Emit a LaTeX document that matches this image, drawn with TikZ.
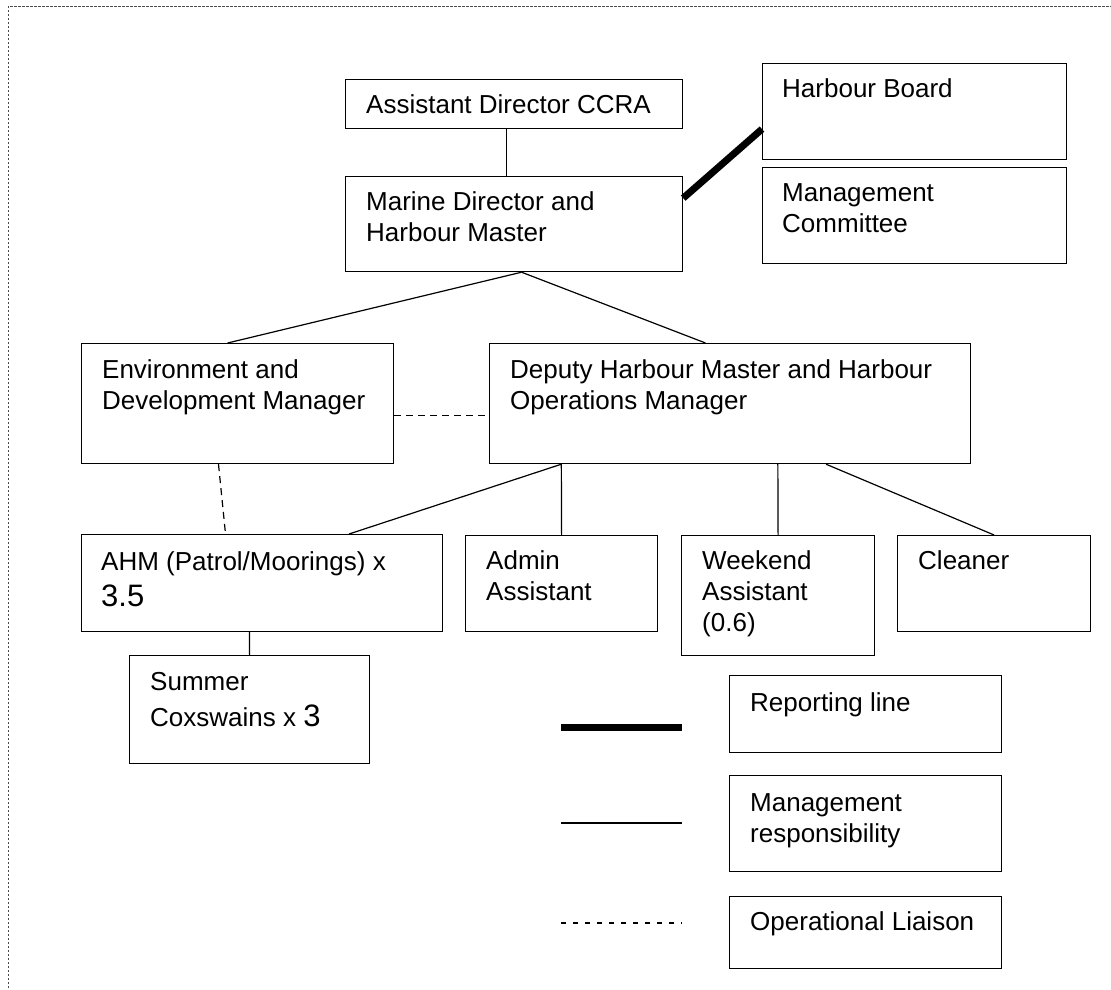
\documentclass[tikz,border=0pt]{standalone}
\usepackage{fontspec}
\setmainfont{Liberation Sans}
\usetikzlibrary{calc}
\tikzset{
  box/.style={draw, line width=1.2pt, inner sep=0pt, anchor=north west},
  lbl/.style={anchor=base west, inner sep=0pt, font=\fontsize{26}{31}\selectfont},
  mgmt/.style={line width=1.2pt},
  liaison/.style={line width=1.2pt, dash pattern=on 7pt off 5pt},
  reporting/.style={line width=7pt},
  frame/.style={line width=0.9pt, black!70, dash pattern=on 2.5pt off 1.5pt},
}
\newcommand{\bignum}[1]{{\fontsize{31}{36}\selectfont #1}}
\newcommand{\mlines}[1]{\begin{tabular}[t]{@{}l@{}}#1\end{tabular}}
\begin{document}
\begin{tikzpicture}[x=1pt,y=-1pt]
\useasboundingbox (0,0) rectangle (1111,989);
\draw[frame] (8,1000) -- (8,6) -- (1120,6);

% boxes
\node[box, minimum width=337pt, minimum height=49pt]  (adccra) at (345,79) {};
\node[box, minimum width=304pt, minimum height=96pt]  (hb)     at (762,63) {};
\node[box, minimum width=304pt, minimum height=96pt]  (mc)     at (762,167) {};
\node[box, minimum width=337pt, minimum height=95pt]  (md)     at (345,176) {};
\node[box, minimum width=312pt, minimum height=120pt] (env)    at (81,343) {};
\node[box, minimum width=481pt, minimum height=120pt] (dhm)    at (489,343) {};
\node[box, minimum width=361pt, minimum height=97pt]  (ahm)    at (81,534) {};
\node[box, minimum width=192pt, minimum height=96pt]  (admin)  at (465,535) {};
\node[box, minimum width=193pt, minimum height=120pt] (wknd)   at (681,535) {};
\node[box, minimum width=193pt, minimum height=96pt]  (clean)  at (897,535) {};
\node[box, minimum width=240pt, minimum height=108pt] (summer) at (129,655) {};
\node[box, minimum width=272pt, minimum height=77pt]  (rep)    at (729,675) {};
\node[box, minimum width=272pt, minimum height=96pt]  (mresp)  at (729,775) {};
\node[box, minimum width=272pt, minimum height=72pt]  (opl)    at (729,896) {};

% labels
\node[lbl] (adccra-t) at ($(adccra.north west)+(21,34)$) {Assistant Director CCRA};
\node[lbl] (hb-t)     at ($(hb.north west)+(20,34)$) {Harbour Board};
\node[lbl] (mc-t)     at ($(mc.north west)+(20,34)$) {\mlines{Management\\Committee}};
\node[lbl] (md-t)     at ($(md.north west)+(21,34)$) {\mlines{Marine Director and\\Harbour Master}};
\node[lbl] (env-t)    at ($(env.north west)+(21,35)$) {\mlines{Environment and\\Development Manager}};
\node[lbl] (dhm-t)    at ($(dhm.north west)+(21,35)$) {\mlines{Deputy Harbour Master and Harbour\\Operations Manager}};
\node[lbl] (ahm-t)    at ($(ahm.north west)+(20,36)$) {\mlines{AHM (Patrol/Moorings) x\\[5.5pt]\bignum{3.5}}};
\node[lbl] (admin-t)  at ($(admin.north west)+(21,34)$) {\mlines{Admin\\Assistant}};
\node[lbl] (wknd-t)   at ($(wknd.north west)+(21,34)$) {\mlines{Weekend\\Assistant\\(0.6)}};
\node[lbl] (clean-t)  at ($(clean.north west)+(21,34)$) {Cleaner};
\node[lbl] (summer-t) at ($(summer.north west)+(21,35)$) {\mlines{Summer\\[5.5pt]Coxswains x \bignum{3}}};
\node[lbl] (rep-t)    at ($(rep.north west)+(21,36)$) {Reporting line};
\node[lbl] (mresp-t)  at ($(mresp.north west)+(21,36)$) {\mlines{Management\\responsibility}};
\node[lbl] (opl-t)    at ($(opl.north west)+(21,34)$) {Operational Liaison};

% management connectors
\draw[mgmt] ($(adccra.south west)!0.478!(adccra.south east)$) -- ($(md.north west)!0.478!(md.north east)$);
\draw[mgmt] ($(md.south west)!0.522!(md.south east)$) -- ($(env.north west)!0.468!(env.north east)$);
\draw[mgmt] ($(md.south west)!0.522!(md.south east)$) -- ($(dhm.north west)!0.449!(dhm.north east)$);
\draw[mgmt] ($(dhm.south west)!0.15!(dhm.south east)$) -- ($(ahm.north west)!0.74!(ahm.north east)$);
\draw[mgmt] ($(dhm.south west)!0.15!(dhm.south east)$) -- (admin.north);
\draw[mgmt] ($(dhm.south west)!0.599!(dhm.south east)$) -- (wknd.north);
\draw[mgmt] ($(dhm.south west)!0.699!(dhm.south east)$) -- (clean.north);
\draw[mgmt] ($(ahm.south west)!0.465!(ahm.south east)$) -- (summer.north);

% liaison connectors
\draw[liaison] ($(env.north east)!0.6!(env.south east)$) -- ($(dhm.north west)!0.6!(dhm.south west)$);
\draw[liaison] ($(env.south west)!0.439!(env.south east)$) -- ($(ahm.north west)!0.399!(ahm.north east)$);

% reporting line
\draw[reporting] ($(md.north east)!0.23!(md.south east)$) -- ($(hb.north west)!0.68!(hb.south west)$);

% legend
\coordinate (k1a) at (561,727); \coordinate (k1b) at (682,727);
\coordinate (k2a) at (561,823); \coordinate (k2b) at (682,823);
\coordinate (k3a) at (561,923); \coordinate (k3b) at (682,923);
\draw[reporting] (k1a) -- (k1b);
\draw[mgmt] (k2a) -- (k2b);
\draw[line width=1.2pt, dash pattern=on 4.5pt off 7.5pt] (k3a) -- (k3b);
\end{tikzpicture}
\end{document}
